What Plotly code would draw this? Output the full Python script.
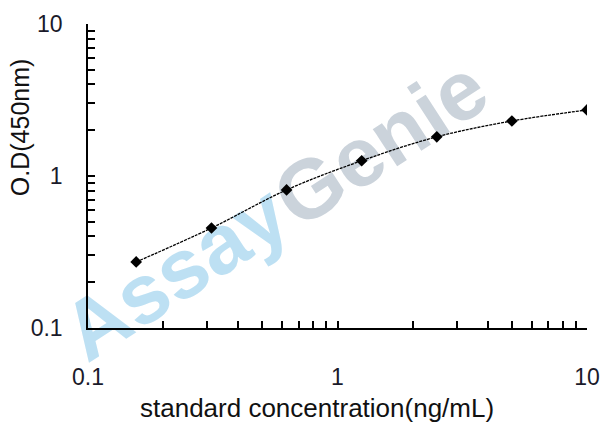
import plotly.graph_objects as go

# standard curve readings
conc = [0.156, 0.3125, 0.625, 1.25, 2.5, 5, 10]
od = [0.272, 0.455, 0.81, 1.26, 1.81, 2.30, 2.72]

major_ticks = [0.1, 1, 10]
major_labels = ["0.1", "1", "10"]
minor_ticks = [0.2, 0.3, 0.4, 0.5, 0.6, 0.7, 0.8, 0.9, 2, 3, 4, 5, 6, 7, 8, 9]

fig = go.Figure()
fig.add_trace(go.Scatter(
    x=conc, y=od, mode="lines+markers",
    line=dict(color="black", width=1.3, shape="spline", dash="3px,1px"),
    marker=dict(symbol="diamond", size=9, color="black"),
    showlegend=False,
))

axis_common = dict(
    type="log", showgrid=False, zeroline=False, automargin=False,
    showline=True, linecolor="black", linewidth=1.5,
    ticks="inside", ticklen=7, tickwidth=1.5, tickcolor="black",
    tickvals=major_ticks, ticktext=major_labels,
    tickfont=dict(family="Arial", size=23, color="#1a1a2a"),
    minor=dict(tickvals=minor_ticks, ticks="inside", ticklen=7,
               tickwidth=1.5, tickcolor="black", showgrid=False),
)

fig.update_xaxes(range=[-1, 1], ticklabelstandoff=28, **axis_common)
fig.update_yaxes(range=[-1, 1], ticklabelstandoff=19, **axis_common)

# watermark, kept under the curve (shape labels on the "below" layer)
for word, col, cx, cy in [("Assay", "#bde0f3", 0.166, 0.205),
                          ("Genie", "#cbd3db", 0.577, 0.632)]:
    fig.add_shape(
        type="rect", xref="paper", yref="paper",
        x0=cx - 0.01, x1=cx + 0.01, y0=cy - 0.01, y1=cy + 0.01,
        line=dict(width=0), fillcolor="rgba(0,0,0,0)", layer="below",
        label=dict(text=word, textangle=-33, textposition="middle center",
                   font=dict(family="Arial", size=84, color=col, weight="bold")),
    )

# axis titles
fig.add_annotation(
    text="standard concentration(ng/mL)", xref="paper", yref="paper",
    x=0.459, y=-0.263, showarrow=False, xanchor="center", yanchor="middle",
    font=dict(family="Arial", size=26, color="#111"),
)
fig.add_annotation(
    text="O.D(450nm)", xref="paper", yref="paper",
    x=-0.136, y=0.661, showarrow=False, textangle=-90,
    xanchor="center", yanchor="middle",
    font=dict(family="Arial", size=25, color="#111"),
)

fig.update_layout(
    width=600, height=422,
    margin=dict(l=80, r=21, t=16, b=102),
    plot_bgcolor="white", paper_bgcolor="white",
)

fig.write_html("out.html")
